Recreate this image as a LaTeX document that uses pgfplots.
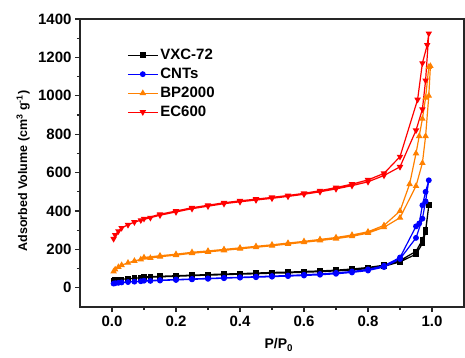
\documentclass[border=0pt]{standalone}
\usepackage{fontspec}
\setmainfont{Liberation Sans}
\usepackage{pgfplots}
\pgfplotsset{compat=1.18}
\definecolor{myorange}{RGB}{255,128,0}
\definecolor{myblue}{RGB}{0,0,255}
\definecolor{myred}{RGB}{255,0,0}
\begin{document}
\begin{tikzpicture}
\begin{axis}[
  scale only axis, width=384pt, height=288pt,
  xmin=-0.1, xmax=1.1, ymin=-100, ymax=1400,
  xtick={0,0.2,0.4,0.6,0.8,1.0}, minor x tick num=1,
  ytick={0,200,400,600,800,1000,1200,1400}, minor y tick num=1,
  tick align=outside, xtick pos=left, ytick pos=left,
  major tick length=5pt, minor tick length=3pt,
  axis line style={line width=1.5pt, black!85},
  every tick/.style={black!85, line width=1.2pt},
  /pgf/number format/assume math mode=true,
  /pgf/number format/1000 sep={},
  tick label style={font=\fontsize{15}{15}\selectfont\bfseries},
  xticklabel style={/pgf/number format/.cd, fixed, fixed zerofill, precision=1},
  xlabel={P/P\textsubscript{0}},
  ylabel={Adsorbed Volume (cm\textsuperscript{3} g\textsuperscript{-1})},
  xlabel style={at={(axis description cs:0.518,-0.132)}, anchor=center, font=\fontsize{14}{14}\selectfont\bfseries},
  ylabel style={at={(axis description cs:-0.148,0.472)}, anchor=center, font=\fontsize{12.5}{12.5}\selectfont\bfseries},
  legend style={at={(rel axis cs:0,1)}, anchor=north west, xshift=47pt, yshift=-28pt,
    draw=none, fill=none, inner sep=0pt, row sep=3pt,
    font=\fontsize{15}{15}\selectfont\bfseries},
  legend cell align=left,
  legend image code/.code={\draw[mark repeat=2,mark phase=2] plot coordinates {(0pt,0pt)(15pt,0pt)(30pt,0pt)};},
  every axis plot/.append style={line width=1.2pt},
]
\coordinate (sw) at (rel axis cs:0,0);
\coordinate (ne) at (rel axis cs:1,1);
% VXC-72
\addplot[black, mark=square*, mark size=2.2pt] coordinates {
(0.005,38)(0.01,40)(0.02,42)(0.03,44)(0.05,47)(0.07,50)(0.09,52)(0.12,55)(0.15,57)(0.2,60)(0.25,63)(0.3,66)(0.35,68)(0.4,71)(0.45,73)(0.5,76)(0.55,78)(0.6,81)(0.65,84)(0.7,88)(0.75,93)(0.8,100)(0.85,112)(0.9,135)(0.95,175)(0.97,230)(0.98,290)(0.99,430)
(0.98,300)(0.97,250)(0.95,190)(0.9,142)(0.85,118)(0.8,106)(0.75,98)(0.7,92)(0.65,88)(0.6,85)(0.55,82)(0.5,80)(0.45,77)(0.4,74)(0.35,72)(0.3,69)(0.25,66)(0.2,63)(0.15,60)(0.1,57)};
\addlegendentry{VXC-72}
% CNTs
\addplot[myblue, mark=*, mark size=2.3pt] coordinates {
(0.005,22)(0.01,24)(0.02,26)(0.03,28)(0.05,30)(0.07,32)(0.09,34)(0.12,36)(0.15,38)(0.2,41)(0.25,44)(0.3,47)(0.35,50)(0.4,53)(0.45,55)(0.5,58)(0.55,61)(0.6,64)(0.65,68)(0.7,73)(0.75,80)(0.8,90)(0.85,108)(0.9,150)(0.95,260)(0.97,360)(0.98,450)(0.99,560)
(0.98,500)(0.97,430)(0.96,335)(0.95,320)(0.9,158)(0.85,115)(0.8,96)(0.75,85)(0.7,78)(0.65,72)(0.6,68)(0.55,64)(0.5,61)(0.45,58)(0.4,55)(0.35,52)(0.3,49)(0.25,46)(0.2,43)(0.15,40)(0.1,37)};
\addlegendentry{CNTs}
% BP2000
\addplot[myorange, mark=triangle*, mark size=2.6pt] coordinates {
(0.005,85)(0.01,95)(0.02,108)(0.03,118)(0.05,130)(0.07,140)(0.09,148)(0.12,155)(0.15,162)(0.2,170)(0.25,180)(0.3,187)(0.35,195)(0.4,203)(0.45,211)(0.5,219)(0.55,228)(0.6,237)(0.65,246)(0.7,256)(0.75,268)(0.8,285)(0.85,315)(0.9,365)(0.95,530)(0.97,650)(0.98,790)(0.99,1000)(0.995,1155)
(0.99,1150)(0.98,990)(0.97,880)(0.96,790)(0.95,700)(0.93,540)(0.9,400)(0.85,325)(0.8,292)(0.75,275)(0.7,262)(0.65,252)(0.6,242)(0.55,233)(0.5,224)(0.45,216)(0.4,208)(0.35,200)(0.3,192)(0.25,185)(0.2,175)(0.15,167)(0.1,158)};
\addlegendentry{BP2000}
% EC600
\addplot[myred, mark=triangle*, mark options={rotate=180}, mark size=2.6pt] coordinates {
(0.005,255)(0.01,275)(0.02,295)(0.03,312)(0.05,328)(0.07,342)(0.09,352)(0.12,365)(0.15,378)(0.2,395)(0.25,412)(0.3,425)(0.35,438)(0.4,448)(0.45,457)(0.5,466)(0.55,476)(0.6,487)(0.65,500)(0.7,515)(0.75,532)(0.8,552)(0.85,585)(0.9,630)(0.95,820)(0.97,930)(0.98,1080)(0.99,1325)
(0.985,1265)(0.97,1170)(0.955,980)(0.9,683)(0.85,596)(0.8,562)(0.75,540)(0.7,522)(0.65,506)(0.6,492)(0.55,481)(0.5,471)(0.45,462)(0.4,453)(0.35,443)(0.3,430)(0.25,417)(0.2,400)(0.15,383)(0.1,360)};
\addlegendentry{EC600}
\end{axis}
\pgfresetboundingbox
\path[use as bounding box] ([shift={(-80pt,-50pt)}]sw) rectangle ([shift={(1pt,19pt)}]ne);
\end{tikzpicture}
\end{document}
